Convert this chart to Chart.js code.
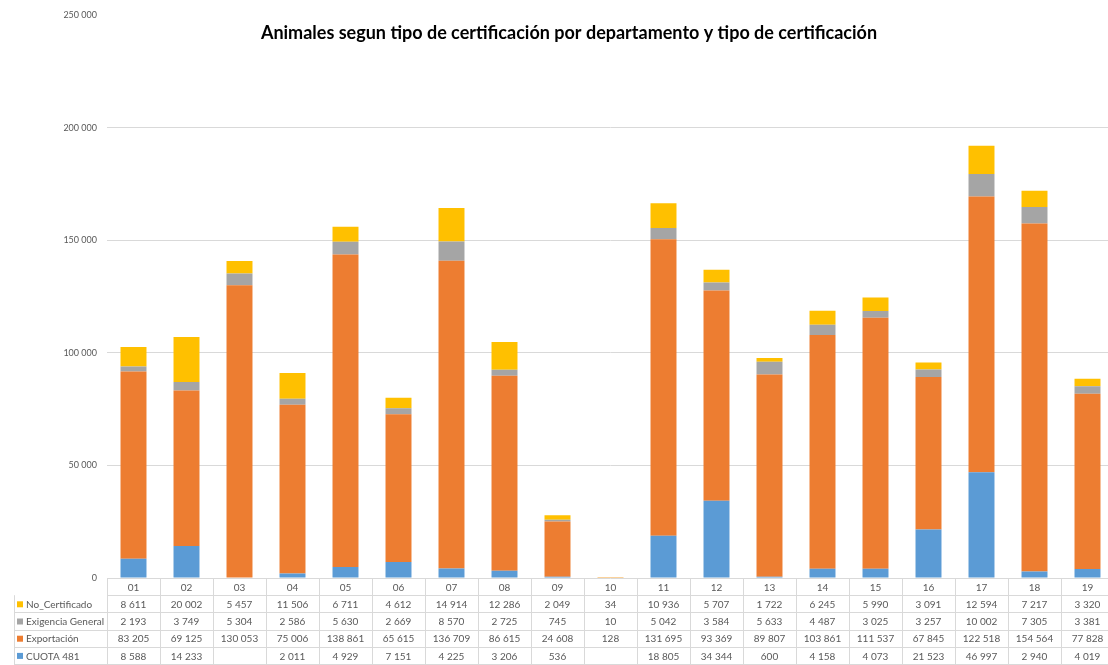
<!DOCTYPE html>
<html>
<head>
<meta charset="utf-8">
<script src="https://cdn.jsdelivr.net/npm/chart.js@4/dist/chart.umd.min.js"></script>
<style>
  html, body { margin: 0; padding: 0; background: #fff; overflow: hidden; }
  #wrap { width: 1114px; height: 665px; position: relative; }
</style>
</head>
<body>
<div id="wrap"><canvas id="chart"></canvas></div>
<script>
const categories = ['01','02','03','04','05','06','07','08','09','10','11','12','13','14','15','16','17','18','19'];
const cuota481 = [8588, 14233, null, 2011, 4929, 7151, 4225, 3206, 536, null, 18805, 34344, 600, 4158, 4073, 21523, 46997, 2940, 4019];
const exportacion = [83205, 69125, 130053, 75006, 138861, 65615, 136709, 86615, 24608, 128, 131695, 93369, 89807, 103861, 111537, 67845, 122518, 154564, 77828];
const exigenciaGeneral = [2193, 3749, 5304, 2586, 5630, 2669, 8570, 2725, 745, 10, 5042, 3584, 5633, 4487, 3025, 3257, 10002, 7305, 3381];
const noCertificado = [8611, 20002, 5457, 11506, 6711, 4612, 14914, 12286, 2049, 34, 10936, 5707, 1722, 6245, 5990, 3091, 12594, 7217, 3320];
const yMax = 250000;
const yStep = 50000;

const title = 'Animales segun tipo de certificación por departamento y tipo de certificación';
const font = 'Lato, "Open Sans", sans-serif';

function fmt(v) {
    if (v === null || v === undefined) return '';
    return String(v).replace(/\B(?=(\d{3})+(?!\d))/g, ' ');
}

const datasets = [
    { label: 'CUOTA 481', data: cuota481, backgroundColor: '#5B9BD5' },
    { label: 'Exportación', data: exportacion, backgroundColor: '#ED7D31' },
    { label: 'Exigencia General', data: exigenciaGeneral, backgroundColor: '#A5A5A5' },
    { label: 'No_Certificado', data: noCertificado, backgroundColor: '#FFC000' }
];

// data table under the plot, drawn like Excel's chart data table
const tablePlugin = {
    id: 'dataTable',
    afterDraw(chart) {
        const ctx = chart.ctx;
        const x = chart.scales.x;
        const area = chart.chartArea;
        const n = categories.length;
        const colW = (area.right - area.left) / n;
        const top = area.bottom;
        const rowH = 17.2;
        const labelLeft = 14;
        const rows = [...datasets].reverse();

        ctx.save();
        ctx.strokeStyle = '#d9d9d9';
        ctx.lineWidth = 1;

        // horizontal lines
        for (let r = 0; r <= rows.length + 1; r++) {
            const y = Math.round(top + r * rowH) + 0.5;
            ctx.beginPath();
            ctx.moveTo(r <= 1 ? area.left : labelLeft, y);
            ctx.lineTo(area.right, y);
            ctx.stroke();
        }
        // vertical lines
        for (let c = 0; c <= n; c++) {
            const xx = Math.round(area.left + c * colW) + 0.5;
            ctx.beginPath();
            ctx.moveTo(xx, top);
            ctx.lineTo(xx, top + (rows.length + 1) * rowH);
            ctx.stroke();
        }
        ctx.beginPath();
        ctx.moveTo(labelLeft + 0.5, top + rowH);
        ctx.lineTo(labelLeft + 0.5, top + (rows.length + 1) * rowH);
        ctx.stroke();

        ctx.fillStyle = '#595959';
        ctx.font = '10px ' + font;
        ctx.textBaseline = 'middle';
        ctx.textAlign = 'center';
        categories.forEach((cat, i) => {
            ctx.fillText(cat, x.getPixelForValue(i), top + rowH / 2 + 1);
        });

        rows.forEach((ds, r) => {
            const cy = top + (r + 1.5) * rowH + 1;
            ctx.fillStyle = ds.backgroundColor;
            ctx.fillRect(labelLeft + 3, cy - 3.5, 6, 6);
            ctx.fillStyle = '#595959';
            ctx.textAlign = 'left';
            ctx.fillText(ds.label, labelLeft + 12, cy);
            ctx.textAlign = 'center';
            ds.data.forEach((v, i) => {
                ctx.fillText(fmt(v), x.getPixelForValue(i), cy);
            });
        });

        // title
        ctx.fillStyle = '#000';
        ctx.font = 'bold 18px ' + font;
        ctx.textAlign = 'center';
        ctx.fillText(title, 569, 33);
        ctx.restore();
    }
};

new Chart(document.getElementById('chart'), {
    type: 'bar',
    data: { labels: categories, datasets: datasets },
    options: {
        responsive: true,
        maintainAspectRatio: false,
        animation: false,
        layout: { padding: { top: 15, bottom: 87, left: 0, right: 0 } },
        plugins: {
            legend: { display: false },
            tooltip: { enabled: false }
        },
        datasets: {
            bar: { categoryPercentage: 1, barPercentage: 0.49 }
        },
        scales: {
            x: {
                stacked: true,
                display: false
            },
            y: {
                stacked: true,
                min: 0,
                max: yMax,
                ticks: {
                    stepSize: yStep,
                    padding: 10,
                    color: '#595959',
                    font: { family: font, size: 9 },
                    callback: (v) => fmt(v)
                },
                border: { display: false },
                grid: {
                    drawTicks: false,
                    color: (c) => (c.tick && (c.tick.value === yMax || c.tick.value === 0)) ? 'rgba(0,0,0,0)' : '#d9d9d9'
                },
                afterFit(scale) { scale.width = 107; }
            }
        }
    },
    plugins: [tablePlugin]
});
</script>
</body>
</html>
